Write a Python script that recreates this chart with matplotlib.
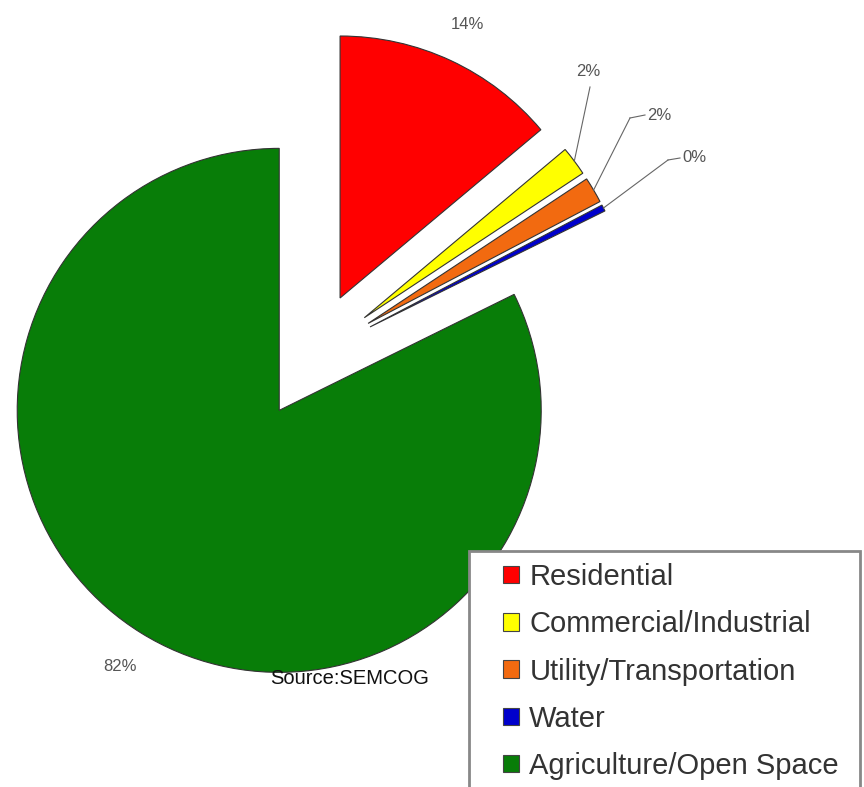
import numpy as np
import matplotlib.pyplot as plt
from matplotlib.patches import Patch, Rectangle

# land use shares (percent)
categories = ["Residential", "Commercial/Industrial", "Utility/Transportation",
              "Water", "Agriculture/Open Space"]
shares = [13.9, 1.8, 1.6, 0.4, 82.3]
colors = ["#ff0000", "#ffff00", "#f26a10", "#0000cc", "#087d08"]

W, H = 864, 787
fig = plt.figure(figsize=(W / 100, H / 100), dpi=100)
ax = fig.add_axes([0, 0, 1, 1])

R = 262
# explode is in data units here (pixels)
wedges, _ = ax.pie(shares, colors=colors, startangle=90, counterclock=False,
                   radius=R, center=(313, 431), explode=[64] * len(shares),
                   wedgeprops=dict(edgecolor="#333333", linewidth=0.8))
ax.set_xlim(0, W)
ax.set_ylim(0, H)
ax.set_aspect("equal")
ax.axis("off")

labels = ["%.0f%%" % s for s in shares]
txt = dict(fontsize=12, color="#555555", family="Liberation Sans",
           ha="center", va="center")


def mid_point(w, frac):
    ang = np.deg2rad((w.theta1 + w.theta2) / 2)
    cx, cy = w.center
    return cx + frac * w.r * np.cos(ang), cy + frac * w.r * np.sin(ang)


# big slices: label just outside the arc
for i in (0, 4):
    x, y = mid_point(wedges[i], 1.15)
    ax.text(x, y, labels[i], **txt)

# small slices: leader lines to labels
elbows = [(590, 700), (630, 669), (668, 627)]
ends = [None, (645, 672), (680, 629)]
for k, i in enumerate((1, 2, 3)):
    x0, y0 = mid_point(wedges[i], 1.0)
    ex, ey = elbows[k]
    ax.plot([x0, ex], [y0, ey], color="#666666", lw=0.8)
    if ends[k] is None:
        ax.text(ex - 2, ey + 15, labels[i], **txt)
    else:
        fx, fy = ends[k]
        ax.plot([ex, fx], [ey, fy], color="#666666", lw=0.8)
        ax.text(fx + 14, fy, labels[i], **txt)

ax.text(350, H - 678, "Source:SEMCOG", fontsize=14.5, color="#111111",
        family="Liberation Sans", ha="center", va="center")

# legend frame runs off the bottom of the picture
ax.add_patch(Rectangle((469, -20), 391, H - 551 + 20, facecolor="white",
                       edgecolor="#888888", linewidth=2, zorder=3))
handles = [Patch(facecolor=c, edgecolor="#444444", linewidth=0.8) for c in colors]
leg = ax.legend(handles, categories, loc="upper left",
                bbox_to_anchor=(503 / W, (H - 563) / H), borderaxespad=0,
                prop=dict(family="Liberation Sans", size=21),
                handlelength=0.55, handleheight=0.55, handletextpad=0.35,
                labelspacing=0.66, borderpad=0, frameon=False)
leg.set_zorder(4)
for t in leg.get_texts():
    t.set_color("#333333")

fig.savefig("out.png", dpi=100)
